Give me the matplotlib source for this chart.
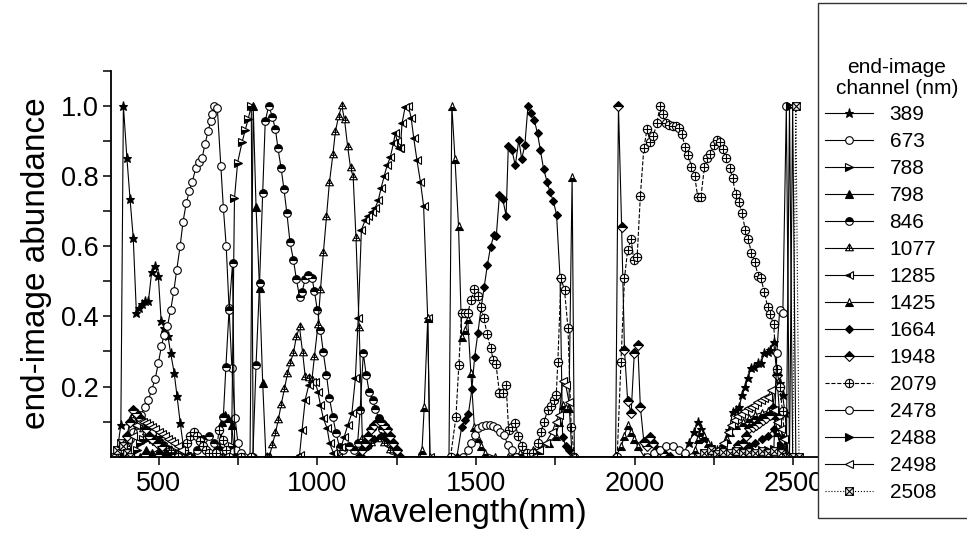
import matplotlib
matplotlib.use("Agg")
import matplotlib.pyplot as plt
from matplotlib.path import Path
from matplotlib.patches import Rectangle

plt.rcParams['font.family'] = ['Liberation Sans', 'DejaVu Sans']

# ---- data: end-image abundance per channel ----
wl_389 = [370, 381, 389, 400, 410, 420, 430, 438, 447, 457, 468, 478, 489, 499, 508, 518, 529, 538, 549, 558,
          568, 578, 590, 610, 2150, 2170, 2188, 2199, 2209, 2220, 2240, 2260, 2280, 2298, 2309, 2319, 2330,
          2338, 2349, 2356, 2367, 2377, 2388, 2398, 2409, 2419, 2428, 2438, 2448, 2459, 2466, 2474, 2484]
ab_389 = [0.02, 0.09, 1.0, 0.852, 0.734, 0.624, 0.409, 0.423, 0.434, 0.444, 0.444, 0.525, 0.544, 0.515, 0.387,
          0.366, 0.345, 0.295, 0.239, 0.173, 0.097, 0.03, 0.01, 0.0, 0.0, 0.04, 0.07, 0.1, 0.08, 0.05, 0.03,
          0.02, 0.03, 0.076, 0.128, 0.132, 0.142, 0.176, 0.2, 0.223, 0.252, 0.256, 0.266, 0.268, 0.295, 0.299,
          0.305, 0.328, 0.238, 0.211, 0.176, 0.124, 0.0]

wl_673 = [370, 381, 389, 400, 410, 420, 433, 444, 457, 468, 478, 489, 499, 509, 517, 528, 538, 548, 557, 568,
          577, 587, 597, 606, 617, 627, 637, 646, 656, 664, 668, 675, 685, 696, 704, 713, 722, 731, 741, 750,
          760, 770]
ab_673 = [0.0, 0.01, 0.02, 0.03, 0.05, 0.07, 0.09, 0.119, 0.142, 0.162, 0.19, 0.221, 0.266, 0.315, 0.347, 0.373,
          0.418, 0.472, 0.532, 0.601, 0.67, 0.722, 0.757, 0.783, 0.822, 0.84, 0.85, 0.89, 0.928, 0.956, 0.975,
          0.999, 0.993, 0.829, 0.709, 0.6, 0.423, 0.252, 0.109, 0.038, 0.01, 0.0]

wl_788 = [420, 431, 441, 452, 462, 472, 483, 493, 503, 514, 524, 535, 545, 560, 600, 700, 720, 730, 739, 749,
          763, 773, 782, 792, 798]
ab_788 = [0.0, 0.02, 0.04, 0.05, 0.05, 0.055, 0.05, 0.045, 0.06, 0.04, 0.03, 0.02, 0.02, 0.0, 0.0, 0.0, 0.0,
          0.03, 0.736, 0.838, 0.896, 0.931, 0.961, 1.0, 0.0]

wl_798 = [440, 460, 480, 500, 520, 540, 560, 600, 680, 690, 700, 710, 720, 730, 740, 788, 798, 807, 818, 828,
          838, 850]
ab_798 = [0.0, 0.02, 0.01, 0.02, 0.01, 0.02, 0.0, 0.0, 0.0, 0.02, 0.1, 0.12, 0.11, 0.09, 0.0, 0.0, 1.0, 0.712,
          0.48, 0.209, 0.0, 0.0]

wl_846 = [600, 620, 640, 660, 675, 685, 694, 704, 712, 722, 733, 740, 790, 797, 807, 818, 828, 836, 847, 858,
          868, 876, 886, 895, 904, 914, 925, 934, 944, 952, 962, 972, 983, 991, 1000, 1010, 1019, 1029, 1038,
          1049, 1059, 1070, 1080, 1100, 1117, 1127, 1135, 1145, 1154, 1164, 1175, 1183, 1194, 1204, 1214, 1224,
          1235, 1250]
ab_846 = [0.0, 0.02, 0.05, 0.06, 0.04, 0.02, 0.02, 0.114, 0.256, 0.418, 0.551, 0.0, 0.0, 0.0, 0.261, 0.494,
          0.752, 0.956, 1.0, 0.969, 0.933, 0.879, 0.822, 0.762, 0.695, 0.611, 0.56, 0.506, 0.456, 0.47, 0.506,
          0.518, 0.51, 0.472, 0.418, 0.361, 0.297, 0.233, 0.168, 0.114, 0.067, 0.028, 0.02, 0.03, 0.02, 0.038,
          0.133, 0.296, 0.233, 0.183, 0.162, 0.135, 0.109, 0.08, 0.06, 0.04, 0.02, 0.0]

wl_1077 = [390, 400, 410, 420, 430, 440, 450, 460, 470, 480, 490, 500, 510, 520, 540, 560, 600, 840, 849, 858,
           868, 877, 886, 896, 906, 914, 925, 934, 944, 954, 962, 973, 983, 991, 1002, 1010, 1019, 1029, 1038,
           1049, 1057, 1067, 1077, 1086, 1096, 1105, 1113, 1122, 1132, 1142, 1156, 1170, 1190, 1210, 1230, 1250]
ab_1077 = [0.0, 0.03, 0.1, 0.12, 0.1, 0.09, 0.08, 0.07, 0.06, 0.05, 0.05, 0.04, 0.04, 0.03, 0.02, 0.01, 0.0,
           0.0, 0.0, 0.033, 0.067, 0.105, 0.147, 0.192, 0.236, 0.266, 0.296, 0.342, 0.369, 0.295, 0.228, 0.223,
           0.219, 0.285, 0.375, 0.475, 0.579, 0.684, 0.779, 0.86, 0.926, 0.969, 1.0, 0.959, 0.881, 0.822, 0.798,
           0.623, 0.366, 0.05, 0.03, 0.04, 0.05, 0.04, 0.02, 0.0]

wl_1285 = [935, 944, 952, 962, 973, 983, 993, 1002, 1010, 1019, 1031, 1039, 1051, 1065, 1075, 1085, 1096, 1109,
           1120, 1129, 1139, 1151, 1161, 1172, 1182, 1192, 1201, 1211, 1220, 1230, 1240, 1246, 1251, 1257, 1262,
           1267, 1277, 1287, 1296, 1304, 1314, 1325, 1335, 1348, 1355]
ab_1285 = [0.0, 0.005, 0.076, 0.162, 0.204, 0.214, 0.214, 0.185, 0.147, 0.109, 0.081, 0.038, 0.01, 0.0, 0.028,
           0.057, 0.09, 0.124, 0.223, 0.396, 0.646, 0.674, 0.687, 0.698, 0.708, 0.73, 0.765, 0.8, 0.83, 0.853,
           0.893, 0.923, 0.9, 0.88, 0.88, 0.95, 0.997, 1.0, 0.964, 0.907, 0.845, 0.783, 0.714, 0.394, 0.0]

wl_1425 = [1320, 1330, 1337, 1348, 1355, 1415, 1424, 1434, 1445, 1455, 1466, 1474, 1484, 1495, 1506, 1516, 1530,
           1560, 1600, 1640, 1680, 1700, 1730, 1752, 1763, 1773, 1783, 1793, 1803, 1810, 1940, 1958, 1968, 1978,
           1989, 1999, 2010, 2030, 2180, 2190, 2200, 2210, 2220, 2230, 2240, 2280, 2290, 2300, 2320, 2340, 2360,
           2380, 2400, 2420, 2440, 2450, 2460, 2470]
ab_1425 = [0.0, 0.02, 0.142, 0.394, 0.0, 0.0, 1.0, 0.847, 0.658, 0.342, 0.361, 0.391, 0.238, 0.085, 0.052, 0.03,
           0.01, 0.0, 0.0, 0.01, 0.02, 0.02, 0.04, 0.06, 0.1, 0.147, 0.14, 0.14, 0.798, 0.0, 0.0, 0.03, 0.06,
           0.09, 0.07, 0.05, 0.03, 0.0, 0.0, 0.02, 0.05, 0.07, 0.06, 0.04, 0.02, 0.0, 0.05, 0.07, 0.09, 0.1,
           0.11, 0.12, 0.125, 0.13, 0.12, 0.07, 0.03, 0.0]

wl_1664 = [1140, 1160, 1180, 1200, 1220, 1240, 1260, 1440, 1455, 1466, 1476, 1487, 1496, 1506, 1516, 1526, 1536,
           1546, 1557, 1564, 1574, 1584, 1595, 1602, 1613, 1624, 1635, 1644, 1654, 1664, 1674, 1684, 1694, 1703,
           1713, 1724, 1733, 1744, 1754, 1765, 1773, 1783, 1793, 1803, 2300, 2320, 2340, 2360, 2380, 2400, 2420,
           2440, 2460]
ab_1664 = [0.0, 0.03, 0.05, 0.06, 0.05, 0.03, 0.0, 0.0, 0.085, 0.105, 0.121, 0.192, 0.285, 0.352, 0.423, 0.484,
           0.546, 0.598, 0.632, 0.628, 0.746, 0.735, 0.687, 0.886, 0.874, 0.83, 0.903, 0.848, 0.887, 1.0, 0.98,
           0.958, 0.921, 0.873, 0.82, 0.784, 0.755, 0.728, 0.689, 0.508, 0.057, 0.03, 0.02, 0.0, 0.0, 0.01,
           0.02, 0.03, 0.04, 0.05, 0.06, 0.08, 0.04]

wl_1948 = [389, 400, 410, 419, 430, 440, 450, 460, 470, 480, 495, 510, 530, 1130, 1140, 1150, 1160, 1170, 1180,
           1190, 1200, 1210, 1220, 1230, 1240, 1250, 1260, 1940, 1949, 1959, 1968, 1978, 1989, 1999, 2010, 2018,
           2029, 2039, 2049, 2059, 2070, 2090, 2110, 2300, 2315, 2325, 2340, 2350, 2361, 2372, 2383, 2393, 2404,
           2414, 2425, 2435, 2448, 2457, 2466, 2475]
ab_1948 = [0.0, 0.06, 0.1, 0.133, 0.125, 0.11, 0.1, 0.08, 0.06, 0.05, 0.04, 0.03, 0.0, 0.0, 0.02, 0.04, 0.06,
           0.08, 0.09, 0.1, 0.1, 0.09, 0.08, 0.06, 0.04, 0.02, 0.0, 0.0, 1.0, 0.655, 0.304, 0.16, 0.125, 0.296,
           0.318, 0.142, 0.043, 0.03, 0.057, 0.04, 0.02, 0.01, 0.0, 0.0, 0.02, 0.033, 0.04, 0.06, 0.081, 0.085,
           0.09, 0.095, 0.105, 0.109, 0.12, 0.138, 0.233, 0.12, 0.05, 0.0]

wl_2079 = [560, 580, 590, 600, 610, 620, 630, 640, 650, 660, 680, 691, 702, 712, 722, 760, 790, 1420, 1437, 1446,
           1455, 1465, 1474, 1485, 1495, 1506, 1515, 1525, 1535, 1546, 1555, 1563, 1574, 1584, 1595, 1603, 1613,
           1623, 1633, 1645, 1660, 1680, 1695, 1705, 1715, 1726, 1735, 1745, 1753, 1758, 1768, 1779, 1790, 1800,
           1810, 1945, 1957, 1968, 1978, 1989, 1997, 2008, 2018, 2029, 2039, 2049, 2059, 2070, 2080, 2089, 2099,
           2109, 2120, 2130, 2140, 2149, 2159, 2169, 2179, 2189, 2199, 2209, 2220, 2228, 2239, 2249, 2259, 2269,
           2279, 2289, 2300, 2309, 2318, 2329, 2338, 2349, 2358, 2368, 2378, 2389, 2398, 2409, 2419, 2427, 2438,
           2448, 2457, 2466, 2477]
ab_2079 = [0.0, 0.02, 0.04, 0.06, 0.07, 0.06, 0.045, 0.03, 0.02, 0.01, 0.01, 0.076, 0.048, 0.02, 0.0, 0.0, 0.0,
           0.0, 0.114, 0.261, 0.409, 0.41, 0.41, 0.446, 0.477, 0.458, 0.427, 0.394, 0.35, 0.309, 0.275, 0.264,
           0.182, 0.181, 0.204, 0.076, 0.085, 0.095, 0.06, 0.03, 0.01, 0.01, 0.038, 0.071, 0.1, 0.133, 0.145,
           0.162, 0.176, 0.271, 0.508, 0.475, 0.366, 0.085, 0.0, 0.0, 0.271, 0.508, 0.589, 0.62, 0.56, 0.57,
           0.743, 0.879, 0.933, 0.897, 0.914, 0.95, 0.999, 0.976, 0.952, 0.945, 0.943, 0.942, 0.937, 0.919, 0.881,
           0.86, 0.826, 0.801, 0.739, 0.741, 0.826, 0.852, 0.862, 0.888, 0.902, 0.897, 0.876, 0.85, 0.822, 0.793,
           0.748, 0.725, 0.693, 0.646, 0.619, 0.581, 0.556, 0.516, 0.508, 0.468, 0.427, 0.406, 0.377, 0.25, 0.2,
           0.13, 0.0]

wl_2478 = [1460, 1474, 1484, 1497, 1507, 1519, 1532, 1543, 1555, 1566, 1577, 1589, 1600, 1612, 1625, 2040, 2060,
           2080, 2100, 2120, 2140, 2160, 2180, 2430, 2438, 2448, 2457, 2467, 2478, 2488]
ab_2478 = [0.0, 0.02, 0.038, 0.062, 0.081, 0.088, 0.09, 0.09, 0.088, 0.081, 0.071, 0.062, 0.033, 0.02, 0.0, 0.0,
           0.01, 0.02, 0.03, 0.03, 0.02, 0.01, 0.0, 0.0, 0.0, 0.295, 0.418, 0.409, 1.0, 0.0]

wl_2488 = [2300, 2320, 2340, 2360, 2380, 2400, 2420, 2440, 2460, 2478, 2488, 2498]
ab_2488 = [0.0, 0.01, 0.012, 0.015, 0.014, 0.02, 0.018, 0.022, 0.03, 0.0, 1.0, 0.0]

wl_2498 = [410, 420, 430, 440, 450, 460, 470, 480, 490, 500, 510, 520, 530, 540, 550, 560, 570, 590, 1680, 1700,
           1720, 1740, 1752, 1763, 1773, 1783, 1793, 1803, 2240, 2260, 2280, 2293, 2303, 2314, 2324, 2335, 2345,
           2356, 2366, 2377, 2387, 2398, 2408, 2419, 2430, 2440, 2450, 2460, 2470, 2488, 2498, 2508]
ab_2498 = [0.0, 0.06, 0.09, 0.1, 0.1, 0.095, 0.09, 0.085, 0.08, 0.07, 0.065, 0.06, 0.05, 0.045, 0.04, 0.03,
           0.02, 0.0, 0.0, 0.02, 0.04, 0.07, 0.1, 0.12, 0.217, 0.204, 0.157, 0.0, 0.0, 0.02, 0.04, 0.071, 0.09,
           0.105, 0.115, 0.122, 0.13, 0.138, 0.142, 0.147, 0.155, 0.162, 0.166, 0.171, 0.19, 0.133, 0.1, 0.08,
           0.05, 0.0, 1.0, 0.0]

wl_2508 = [360, 370, 381, 389, 400, 410, 2200, 2220, 2240, 2260, 2280, 2300, 2320, 2340, 2360, 2380, 2400, 2420,
           2440, 2460, 2478, 2488, 2498, 2508, 2518]
ab_2508 = [0.0, 0.02, 0.04, 0.03, 0.01, 0.0, 0.0, 0.012, 0.018, 0.009, 0.014, 0.011, 0.016, 0.01, 0.013, 0.012,
           0.017, 0.01, 0.015, 0.012, 0.0, 0.0, 0.0, 1.0, 0.0]

channels = ['389', '673', '788', '798', '846', '1077', '1285', '1425', '1664', '1948',
            '2079', '2478', '2488', '2498', '2508']


# ---- custom Origin-like markers ----
M, L, C = Path.MOVETO, Path.LINETO, Path.CLOSEPOLY
tri_plus = Path([[0, 1], [-0.87, -0.5], [0.87, -0.5], [0, 1], [0, 1], [0, -0.5], [-0.45, 0.05], [0.45, 0.05]],
                [M, L, L, C, M, L, M, L])
circ = Path.unit_circle()
circ_plus = Path.make_compound_path(
    circ, Path([[-1, 0], [1, 0], [0, -1], [0, 1]], [M, L, M, L]))
sq_x = Path([[-1, -1], [1, -1], [1, 1], [-1, 1], [-1, -1], [-1, -1], [1, 1], [-1, 1], [1, -1]],
            [M, L, L, L, C, M, L, M, L])

W = 'white'
K = 'black'
# (wavelengths, values, marker, size, facecolor, fillstyle, linestyle)
series = [
    (wl_389, ab_389, '*', 6.5, K, 'full', '-'),
    (wl_673, ab_673, 'o', 5.5, W, 'full', '-'),
    (wl_788, ab_788, '>', 5.5, K, 'bottom', '-'),
    (wl_798, ab_798, '^', 5.5, K, 'full', '-'),
    (wl_846, ab_846, 'o', 5.5, K, 'top', '-'),
    (wl_1077, ab_1077, tri_plus, 6.5, W, 'full', '-'),
    (wl_1285, ab_1285, '<', 5.5, K, 'left', '-'),
    (wl_1425, ab_1425, '^', 5.5, K, 'bottom', '-'),
    (wl_1664, ab_1664, 'D', 4.5, K, 'full', '-'),
    (wl_1948, ab_1948, 'D', 5.0, K, 'top', '-'),
    (wl_2079, ab_2079, circ_plus, 6.0, W, 'full', '--'),
    (wl_2478, ab_2478, 'o', 5.5, W, 'full', '-'),
    (wl_2488, ab_2488, '>', 5.5, K, 'full', '-'),
    (wl_2498, ab_2498, '<', 5.5, W, 'full', '-'),
    (wl_2508, ab_2508, sq_x, 5.5, W, 'full', ':'),
]

fig = plt.figure(figsize=(9.67, 5.54), dpi=100)
ax = fig.add_axes([0.1148, 0.1756, 0.7384, 0.697])

handles = []
for (x, y, mk, ms, fc, fs, ls), lab in zip(series, channels):
    if fs == 'full':
        h, = ax.plot(x, y, color=K, lw=0.8, ls=ls, marker=mk, ms=ms, mfc=fc, mec=K, mew=0.8, label=lab)
    else:
        h, = ax.plot(x, y, color=K, lw=0.8, ls=ls, marker=mk, ms=ms, fillstyle=fs, mfc=K,
                     markerfacecoloralt=W, mec=K, mew=0.8, label=lab)
    handles.append(h)

ax.set_xlim(350, 2600)
ax.set_ylim(0, 1.1)
ax.set_xticks([500, 1000, 1500, 2000, 2500])
ax.set_xticks([750, 1250, 1750, 2250], minor=True)
ax.set_yticks([0.2, 0.4, 0.6, 0.8, 1.0])
ax.set_yticklabels(['0.2', '0.4', '0.6', '0.8', '1.0'])
ax.set_yticks([0.1, 0.3, 0.5, 0.7, 0.9, 1.1], minor=True)
ax.tick_params(which='both', direction='out', length=6, width=1.1, labelsize=19.5)
ax.tick_params(axis='y', pad=3)
ax.tick_params(axis='x', pad=4)
for s in ['top', 'right']:
    ax.spines[s].set_visible(False)
for s in ['left', 'bottom']:
    ax.spines[s].set_linewidth(1.3)

ax.set_xlabel('wavelength(nm)', fontsize=24, labelpad=1)
ax.set_ylabel('end-image abundance', fontsize=24, labelpad=6)

# legend box (runs off the right edge as in the original)
box = Rectangle((818 / 967, 1 - 518 / 554), 0.3, (518 - 3) / 554, transform=fig.transFigure,
                facecolor='white', edgecolor='#333333', lw=1.0, zorder=10)
fig.add_artist(box)
fig.text(897 / 967, 1 - 78 / 554, 'end-image\nchannel (nm)', ha='center', va='center',
         fontsize=15, linespacing=1.1, zorder=12)
leg = fig.legend(handles, channels, loc='upper left', bbox_to_anchor=(825 / 967, 1 - 105 / 554),
                 frameon=False, fontsize=15, handlelength=2.3, handletextpad=0.8,
                 labelspacing=0.385, borderpad=0, borderaxespad=0)
leg.set_zorder(12)

fig.savefig('out.png', dpi=100)
